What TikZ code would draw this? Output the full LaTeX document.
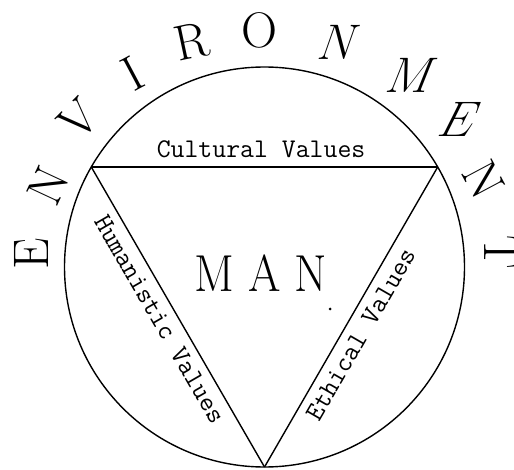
\documentclass[tikz,border=0pt]{standalone}
\begin{document}
\begin{tikzpicture}[x=1pt, y=1pt, line width=1.4pt,
	lettera/.style={inner sep=0pt, font=\fontsize{50}{50}\selectfont},
	valore/.style={inner sep=8pt, font=\ttfamily\fontsize{27}{27}\selectfont},
	uomo/.style={inner sep=0pt, xscale=0.9, font=\fontsize{52}{52}\selectfont},
	]
	
	\def\R{200}     % raggio del cerchio
	
	\useasboundingbox (0,0) rectangle (514,469);
	\coordinate (C) at (264.5,202);
	
	%% ── Cerchio ──────────────────────────────────────────────────────────────
	\draw (C) circle (\R);
	
	%% ── Triangolo inscritto ──────────────────────────────────────────────────
	\coordinate (A) at ([shift={(150:\R)}]C);
	\coordinate (B) at ([shift={(30:\R)}]C);
	\coordinate (D) at ([shift={(270:\R)}]C);
	\draw (A) -- node[valore, above, pos=0.49] (cult) {Cultural Values} (B);
	\draw (A) -- node[valore, sloped, below, pos=0.48] (uman) {Humanistic Values} (D);
	\draw (D) -- node[valore, sloped, below, pos=0.47] (etic) {Ethical Values} (B);
	
	%% ── Centro ───────────────────────────────────────────────────────────────
	\node[uomo, anchor=base] (man) at (261,177) {M A N};
	\fill (330,160) circle (1.5);
	
	%% ── Lettere attorno al cerchio (lettera/angolo/raggio/rotazione/inclinazione)
	\foreach \c/\a/\r/\rot/\sl [count=\i] in {
		E/176.8/233/90/0, N/159.3/231/65/0, V/141.6/237/45/0,
		I/124.3/234/28/0, R/107.8/237/12/0, O/91.3/237/0/0,
		N/71.6/237/0/0.35, M/52.4/242/0/0.4, E/36.9/245/0/0.5,
		N/21.6/236/-62/0, T/3.6/237/-90/0}
	\node[lettera, rotate=\rot, xslant=\sl] (l\i) at ([shift={(\a:\r)}]C) {\c};
	
\end{tikzpicture}
\end{document}
